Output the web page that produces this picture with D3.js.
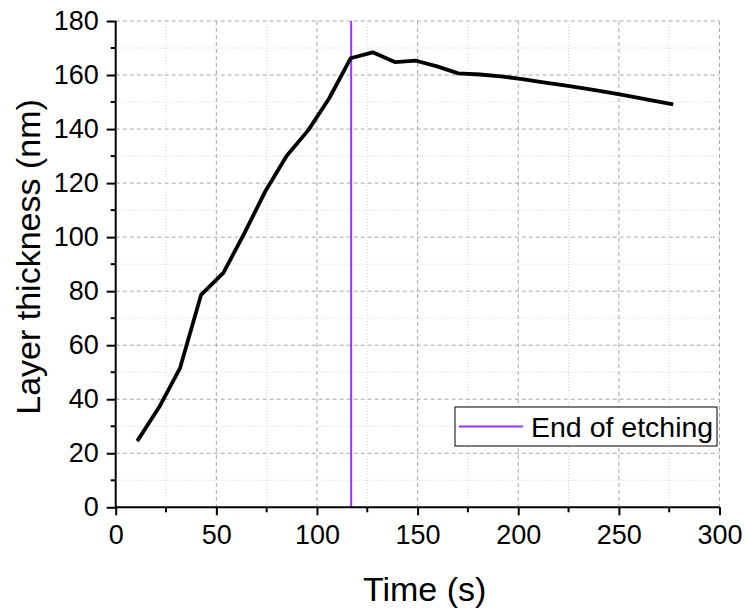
<!DOCTYPE html>
<html>
<head>
<meta charset="utf-8">
<script src="https://cdn.jsdelivr.net/npm/d3@7"></script>
<style>
  body { margin: 0; background: #fff; }
  svg text { font-family: "Liberation Sans", Arial, sans-serif; fill: #000; }
</style>
</head>
<body>
<div id="chart"></div>
<script>
// data
var times = [10.7, 21.7, 31.9, 42.4, 53.5, 63.9, 74.5, 84.9, 95.7, 106.1, 116.7, 127.7, 138.7, 149.2, 159.7, 170.2, 181, 191.5, 202, 212.5, 223, 233.5, 244, 254.5, 265, 277];
var thickness = [24.5, 37.2, 51.4, 78.6, 86.8, 101.4, 117.2, 130, 139.6, 151.4, 166.2, 168.4, 164.8, 165.3, 163.2, 160.6, 160.2, 159.5, 158.5, 157.3, 156.2, 155.0, 153.7, 152.3, 150.8, 149.1];
var etchEnd = 117;
var xTicks = [0, 50, 100, 150, 200, 250, 300];
var yTicks = [0, 20, 40, 60, 80, 100, 120, 140, 160, 180];
var legendLabel = 'End of etching';

var W = 746, H = 610;
var margin = { top: 21, right: 26.5, bottom: 102.7, left: 115.7 }
	, width = W - margin.left - margin.right
	, height = H - margin.top - margin.bottom;

var svg = d3.select('#chart').append('svg')
	.attr('width', W)
	.attr('height', H);

var g = svg.append('g')
	.attr('transform', 'translate(' + margin.left + ',' + margin.top + ')');

var xScale = d3.scaleLinear().domain([0, 300]).range([0, width]);
var yScale = d3.scaleLinear().domain([0, 180]).range([height, 0]);

var xMinor = d3.range(25, 300, 50);
var yMinor = d3.range(10, 180, 20);

// minor grid (dotted)
g.append('g').selectAll('line').data(xMinor).enter().append('line')
	.attr('x1', function (d) { return xScale(d); })
	.attr('x2', function (d) { return xScale(d); })
	.attr('y1', 0).attr('y2', height)
	.attr('stroke', '#d6d6d6').attr('stroke-width', 1).attr('stroke-dasharray', '1,2');
g.append('g').selectAll('line').data(yMinor).enter().append('line')
	.attr('y1', function (d) { return yScale(d); })
	.attr('y2', function (d) { return yScale(d); })
	.attr('x1', 0).attr('x2', width)
	.attr('stroke', '#d6d6d6').attr('stroke-width', 1).attr('stroke-dasharray', '1,2');

// major grid (dashed)
g.append('g').selectAll('line').data(xTicks.slice(1)).enter().append('line')
	.attr('x1', function (d) { return xScale(d); })
	.attr('x2', function (d) { return xScale(d); })
	.attr('y1', 0).attr('y2', height)
	.attr('stroke', '#a8a8a8').attr('stroke-width', 1).attr('stroke-dasharray', '4,3');
g.append('g').selectAll('line').data(yTicks.slice(1)).enter().append('line')
	.attr('y1', function (d) { return yScale(d); })
	.attr('y2', function (d) { return yScale(d); })
	.attr('x1', 0).attr('x2', width)
	.attr('stroke', '#a8a8a8').attr('stroke-width', 1).attr('stroke-dasharray', '4,3');

// end of etching marker
g.append('line')
	.attr('x1', xScale(etchEnd)).attr('x2', xScale(etchEnd))
	.attr('y1', 0).attr('y2', height)
	.attr('stroke', '#9933ff').attr('stroke-width', 2);

// data line
var pts = times.map(function (t, i) { return [t, thickness[i]]; });
var line = d3.line()
	.x(function (d) { return xScale(d[0]); })
	.y(function (d) { return yScale(d[1]); });

g.append('path')
	.datum(pts)
	.attr('d', line)
	.attr('fill', 'none')
	.attr('stroke', '#000')
	.attr('stroke-width', 3.8)
	.attr('stroke-linejoin', 'round');

// axes
var xAxis = g.append('g')
	.attr('transform', 'translate(0,' + height + ')')
	.call(d3.axisBottom(xScale).tickValues(xTicks).tickSize(8).tickPadding(10));
var yAxis = g.append('g')
	.call(d3.axisLeft(yScale).tickValues(yTicks).tickSize(9).tickPadding(8));

[xAxis, yAxis].forEach(function (ax) {
	ax.select('.domain').attr('stroke', '#000').attr('stroke-width', 2);
	ax.selectAll('.tick line').attr('stroke', '#000').attr('stroke-width', 2);
	ax.selectAll('.tick text').style('font-size', '27px').attr('fill', '#000');
});
xAxis.select('.domain').attr('d', 'M0,0H' + width);
yAxis.select('.domain').attr('d', 'M0,' + height + 'V0');

// minor ticks
g.append('g').selectAll('line').data(xMinor).enter().append('line')
	.attr('x1', function (d) { return xScale(d); })
	.attr('x2', function (d) { return xScale(d); })
	.attr('y1', height).attr('y2', height + 5)
	.attr('stroke', '#000').attr('stroke-width', 2);
g.append('g').selectAll('line').data(yMinor).enter().append('line')
	.attr('y1', function (d) { return yScale(d); })
	.attr('y2', function (d) { return yScale(d); })
	.attr('x1', 0).attr('x2', -5)
	.attr('stroke', '#000').attr('stroke-width', 2);

// axis titles
svg.append('text')
	.attr('x', margin.left + width / 2 + 7)
	.attr('y', 601)
	.attr('text-anchor', 'middle')
	.style('font-size', '34px')
	.text('Time (s)');

svg.append('text')
	.attr('transform', 'translate(40,257) rotate(-90)')
	.attr('text-anchor', 'middle')
	.style('font-size', '34px')
	.text('Layer thickness (nm)');

// legend
var legend = svg.append('g').attr('transform', 'translate(455,407)');
legend.append('rect')
	.attr('width', 262).attr('height', 39)
	.attr('fill', '#fff').attr('stroke', '#000').attr('stroke-width', 1);
legend.append('line')
	.attr('x1', 4).attr('x2', 68).attr('y1', 19.5).attr('y2', 19.5)
	.attr('stroke', '#9933ff').attr('stroke-width', 2);
legend.append('text')
	.attr('x', 76).attr('y', 29.5)
	.style('font-size', '28.5px')
	.text(legendLabel);
</script>
</body>
</html>
